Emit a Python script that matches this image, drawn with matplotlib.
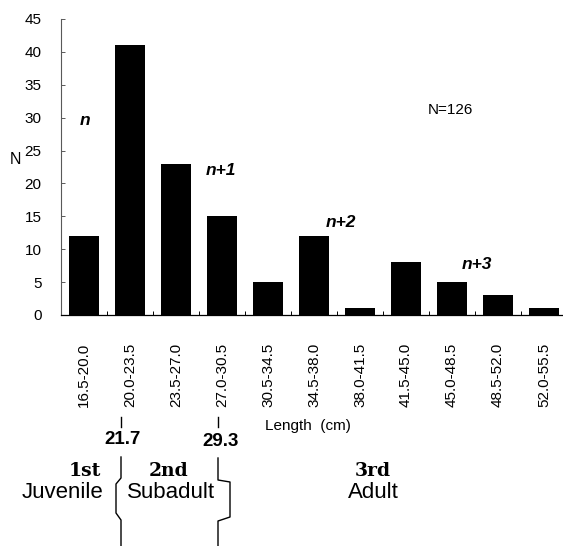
#!/usr/bin/env python3
# -*- coding: utf-8 -*-
# length-frequency histogram with growth stage brackets underneath

import numpy as np
from matplotlib import pyplot as plt
from matplotlib.lines import Line2D

plt.rcParams['font.family'] = ['Liberation Sans', 'DejaVu Sans']

# data
classes = ['16.5-20.0', '20.0-23.5', '23.5-27.0', '27.0-30.5', '30.5-34.5',
           '34.5-38.0', '38.0-41.5', '41.5-45.0', '45.0-48.5', '48.5-52.0',
           '52.0-55.5']
counts = [12, 41, 23, 15, 5, 12, 1, 8, 5, 3, 1]
yticks = np.arange(0, 50, 5)

# cohort labels: (text, class position, count level)
cohorts = [('n', 0.02, 29.6), ('n+1', 2.98, 21.9),
           ('n+2', 5.59, 14.0), ('n+3', 8.54, 7.75)]
total_label = 'N=126'

# stage boundaries and names
bounds = ['21.7', '29.3']
stage_num = ['1st', '2nd', '3rd']
stage_name = ['Juvenile', 'Subadult', 'Adult']

W, H = 563, 546
fig = plt.figure(figsize=(W / 100, H / 100), dpi=100)


def fx(px):
    return px / W


def fy(py):
    return 1 - py / H


# axes box in pixels: left 61, right 567, top 19, bottom 315
ax = fig.add_axes([fx(61), fy(315), (567 - 61) / W, (315 - 19) / H])
x = np.arange(len(classes))
ax.bar(x, counts, width=0.67, color='black')
ax.set_xlim(-0.5, len(classes) - 0.5)
ax.set_ylim(0, 45)
ax.set_yticks(yticks)

ax.spines['top'].set_visible(False)
ax.spines['right'].set_visible(False)
ax.spines['left'].set_color('0.35')
ax.spines['left'].set_linewidth(0.8)
ax.spines['bottom'].set_linewidth(0.9)

ax.set_xticks(x)
ax.set_xticklabels(classes, rotation=90, fontsize=11)
ax.set_xticks(x[:-1] + 0.5, minor=True)
ax.tick_params(axis='x', which='major', length=0, pad=20)
ax.tick_params(axis='x', which='minor', direction='in', length=3, width=0.7)
ax.tick_params(axis='y', direction='in', length=3, width=0.7, pad=14,
               labelsize=11, color='0.35')

ax.set_ylabel('N', rotation=0, fontsize=11.5)
ax.yaxis.set_label_coords(-(61 - 15) / (567 - 61), 0.5)

for txt, cx, cy in cohorts:
    ax.text(cx, cy, txt, fontsize=12.5, fontweight='bold', fontstyle='italic',
            ha='center', va='center')
ax.text(7.96, 31.2, total_label, fontsize=11, ha='center', va='center')

# bottom annotation, in figure pixels
fig.text(fx(308), fy(426), 'Length  (cm)', fontsize=11, ha='center', va='center')

bx = [121, 218]
for b, px, py in zip(bounds, [122.5, 220.5], [439, 441]):
    fig.text(fx(px), fy(py), b, fontsize=13.5, fontweight='bold',
             ha='center', va='center')
for px in bx:
    fig.add_artist(Line2D([fx(px), fx(px)], [fy(417), fy(427)],
                          color='black', lw=1))

for num, px in zip(stage_num, [85, 169, 373]):
    fig.text(fx(px), fy(471), num, fontsize=13.5, family='DejaVu Serif',
             fontweight='bold', ha='center', va='center')
for name, px in zip(stage_name, [62.5, 171.5, 373]):
    fig.text(fx(px), fy(492), name, fontsize=16, ha='center', va='center')

# braces at the stage boundaries
left_brace = [(121, 457), (121, 478), (116, 484), (116, 513), (121, 520), (121, 546)]
right_brace = [(218, 458), (218, 480), (230, 482), (230, 517), (218, 521), (218, 546)]
for pts in [left_brace, right_brace]:
    fig.add_artist(Line2D([fx(p[0]) for p in pts], [fy(p[1]) for p in pts],
                          color='black', lw=1))

plt.savefig('out.png', dpi=100)
